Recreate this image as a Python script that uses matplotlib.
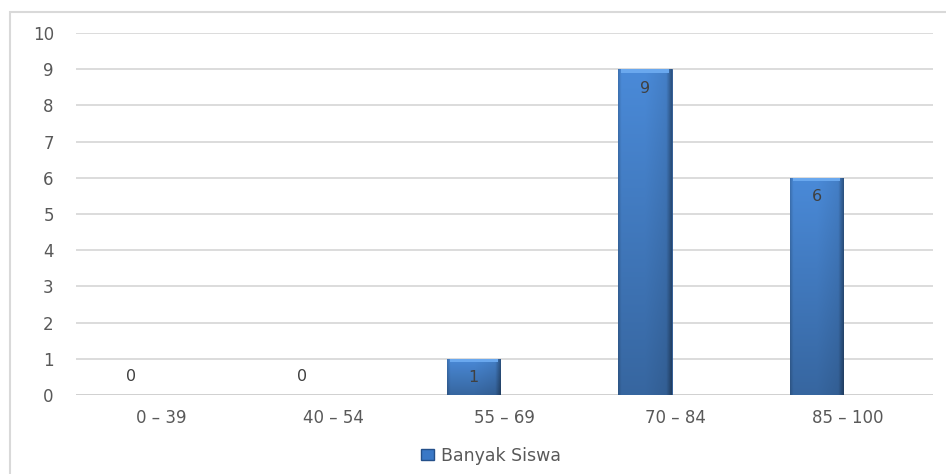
import numpy as np
import matplotlib
matplotlib.use("Agg")
import matplotlib.pyplot as plt
from matplotlib.patches import Rectangle
from matplotlib.colors import to_rgb

# data
categories = ["0 \u2013 39", "40 \u2013 54", "55 \u2013 69", "70 \u2013 84", "85 \u2013 100"]
banyak_siswa = [0, 0, 1, 9, 6]
y_ticks = list(range(0, 11))

W, H = 946, 474
fig = plt.figure(figsize=(W / 100, H / 100), dpi=100)
fig.patch.set_facecolor("white")

# outer chart border
fig.add_artist(Rectangle((10 / W, -0.05), 1.0, 1 - 12 / H + 0.05, transform=fig.transFigure,
                         fill=False, edgecolor="#d9d9d9", linewidth=1.5))

ax = fig.add_axes([76 / W, 1 - 395 / H, 857 / W, (395 - 33) / H])
for s in ax.spines.values():
    s.set_visible(False)
ax.set_yticks(y_ticks)
ax.yaxis.grid(True, color="#d9d9d9", linewidth=1.3)
ax.set_axisbelow(True)
ax.tick_params(axis="both", length=0, labelsize=12, labelcolor="#595959")
ax.tick_params(axis="y", pad=16)
ax.tick_params(axis="x", pad=10)
ax.set_xticks(range(len(categories)))
ax.set_xticklabels(categories)
ax.axhline(0, color="#d0d0d0", linewidth=1.3, zorder=1)

# bar fill: lighter on top, darker toward the bottom, dark right edge
xp = np.linspace(0, 1, 80)
side = np.interp(xp, [0, 0.06, 0.5, 0.9, 1.0], [0.82, 1.0, 1.0, 0.92, 0.6])
yp = np.linspace(0, 1, 80)  # 0 = bottom
vert = np.interp(yp, [0, 1], [0.74, 1.0])
top_col = np.array(to_rgb("#4a8ad8"))
img = np.clip(top_col[None, None, :] * (vert[:, None] * side[None, :])[..., None], 0, 1)

bar_w = 0.31
off = -0.18  # bars sit left of the category centre (as in the original)
xs = np.arange(len(categories)) + off
bars = ax.bar(xs, banyak_siswa, width=bar_w, color="#3a78c6",
              edgecolor="#24508a", linewidth=0.6, zorder=2, label="Banyak Siswa")
for b, v in zip(bars, banyak_siswa):
    if v <= 0:
        continue
    x0, w = b.get_x(), b.get_width()
    im = ax.imshow(img, aspect="auto", extent=[x0, x0 + w, 0, v], origin="lower",
                   interpolation="bilinear", zorder=3)
    im.set_clip_path(b)
    # bevel highlight at the top
    ax.add_patch(Rectangle((x0 + w * 0.05, v - 0.1), w * 0.9, 0.1, facecolor="#6aa8ee",
                           edgecolor="none", zorder=4))

for x, v in zip(xs, banyak_siswa):
    y = v - 0.52 if v > 0 else 0.5
    ax.text(x, y, str(v), ha="center", va="center", fontsize=11.5, color="#404040", zorder=5)

ax.set_xlim(-0.5, len(categories) - 0.5)
ax.set_ylim(0, 10)

leg = fig.legend(handles=[Rectangle((0, 0), 1, 1, facecolor="#3a78c6", edgecolor="#24508a")],
                 labels=["Banyak Siswa"], loc="center", bbox_to_anchor=(491 / W, 1 - 456 / H),
                 frameon=False, fontsize=12.5, handlelength=0.7, handleheight=0.6, handletextpad=0.4)
for t in leg.get_texts():
    t.set_color("#595959")

fig.savefig("out.png", dpi=100)
